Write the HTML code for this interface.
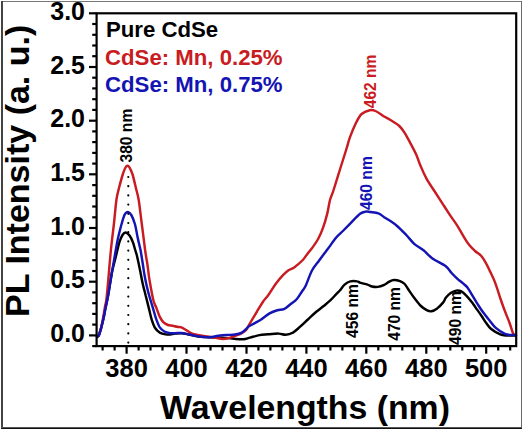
<!DOCTYPE html>
<html><head><meta charset="utf-8"><style>
html,body{margin:0;padding:0;background:#fff;}
body{width:523px;height:430px;overflow:hidden;position:relative;}
svg{position:absolute;left:0;top:0;}
text{font-family:"Liberation Sans",sans-serif;font-weight:bold;}
</style></head><body>
<svg width="523" height="430" viewBox="0 0 523 430">
<rect x="0" y="0" width="523" height="430" fill="#fff"/>
<!-- outer frame -->
<rect x="1" y="1" width="521" height="1" fill="#777"/>
<rect x="521" y="1" width="1" height="428" fill="#6a6a6a"/>
<rect x="1" y="1" width="2" height="428" fill="#444"/>
<rect x="1" y="427" width="521" height="1" fill="#555"/>
<rect x="1" y="428" width="521" height="1" fill="#111"/>
<!-- curves -->
<g fill="none" stroke-width="2.45" stroke-linejoin="round" stroke-linecap="round">
<path stroke="#000000" d="M97.0,336.0 C97.2,336.0 97.8,337.2 98.5,336.0 C99.2,334.8 100.2,331.4 101.0,328.6 C101.8,325.8 102.5,322.8 103.3,319.3 C104.1,315.8 104.8,311.5 105.6,307.6 C106.4,303.7 106.9,301.9 108.0,296.0 C109.1,290.1 110.7,278.7 112.0,272.0 C113.3,265.3 114.8,261.0 116.0,256.0 C117.2,251.0 118.4,245.5 119.5,242.0 C120.6,238.5 121.5,236.6 122.5,235.0 C123.5,233.4 124.6,232.4 125.8,232.5 C127.0,232.6 128.3,233.9 129.5,235.5 C130.7,237.1 131.9,239.6 132.8,242.0 C133.8,244.4 134.5,247.7 135.2,250.0 C135.9,252.3 136.2,252.7 137.0,256.0 C137.8,259.3 139.0,265.2 140.0,270.0 C141.0,274.8 142.0,280.7 143.0,285.0 C144.0,289.3 144.9,292.2 145.8,296.0 C146.8,299.8 147.7,303.7 148.7,307.6 C149.7,311.5 150.5,315.9 151.6,319.3 C152.7,322.7 153.7,325.8 155.1,328.0 C156.5,330.2 158.1,331.5 159.8,332.6 C161.6,333.7 163.9,334.1 165.6,334.4 C167.3,334.7 168.6,334.7 170.2,334.6 C171.8,334.5 173.0,333.8 174.9,333.6 C176.8,333.4 179.6,333.1 181.7,333.2 C183.8,333.3 185.4,333.8 187.5,334.2 C189.6,334.6 192.0,335.3 194.3,335.7 C196.6,336.1 198.9,336.5 201.2,336.8 C203.5,337.1 205.8,337.2 208.1,337.3 C210.4,337.4 212.7,337.3 215.0,337.4 C217.3,337.5 219.3,337.7 222.0,337.8 C224.7,337.9 228.7,338.0 230.9,338.2 C233.1,338.4 233.0,338.7 235.1,338.9 C237.2,339.1 241.0,339.5 243.5,339.3 C246.0,339.1 247.3,338.3 250.0,337.6 C252.7,336.9 256.5,335.7 259.5,335.1 C262.5,334.6 265.0,334.6 268.2,334.3 C271.4,334.1 275.7,333.5 278.6,333.6 C281.5,333.7 283.3,334.8 285.6,334.7 C287.9,334.6 290.3,334.1 292.6,332.8 C294.9,331.6 297.1,329.4 299.6,327.2 C302.2,325.0 305.1,322.1 307.9,319.5 C310.7,316.9 313.7,314.0 316.3,311.8 C318.9,309.6 321.0,308.2 323.3,306.3 C325.6,304.4 327.6,302.9 330.0,300.7 C332.4,298.4 335.8,294.5 337.5,292.8 C339.2,291.1 338.8,291.7 340.0,290.3 C341.2,288.9 342.9,286.1 344.6,284.6 C346.3,283.1 348.2,281.9 350.3,281.4 C352.4,280.9 355.5,281.1 357.2,281.4 C358.9,281.6 358.9,282.4 360.6,282.9 C362.3,283.4 365.6,284.0 367.5,284.6 C369.4,285.2 370.4,286.1 372.1,286.5 C373.8,286.9 375.9,287.1 377.8,286.9 C379.7,286.7 381.7,286.1 383.6,285.2 C385.5,284.3 387.6,282.6 389.3,281.7 C391.0,280.8 392.1,280.1 393.9,280.0 C395.7,279.9 398.2,280.5 400.0,281.2 C401.8,281.9 403.1,282.4 404.7,284.0 C406.2,285.6 407.6,288.4 409.3,290.9 C411.0,293.4 413.2,296.6 415.1,299.1 C417.0,301.6 419.0,304.2 420.9,306.0 C422.8,307.8 424.9,309.2 426.7,310.1 C428.4,311.0 429.6,311.6 431.4,311.3 C433.1,311.0 435.3,309.8 437.2,308.4 C439.1,306.9 441.5,304.4 443.0,302.6 C444.5,300.8 444.7,299.2 446.0,297.6 C447.3,296.0 449.0,294.2 450.7,293.0 C452.4,291.8 454.5,290.9 456.2,290.6 C457.9,290.3 459.2,290.3 460.9,291.2 C462.6,292.1 464.8,294.1 466.5,295.8 C468.2,297.5 469.9,299.8 471.1,301.3 C472.3,302.8 472.9,303.6 473.9,305.0 C474.9,306.4 475.6,307.6 476.9,309.4 C478.2,311.2 480.1,313.7 481.6,316.0 C483.2,318.3 484.6,320.9 486.2,323.0 C487.8,325.1 488.6,326.9 490.9,328.8 C493.2,330.7 497.5,333.3 500.2,334.4 C502.9,335.5 504.6,335.3 507.2,335.5 C509.8,335.7 514.5,335.5 516.0,335.5"/>
<path stroke="#c81c22" d="M97.0,336.0 C97.2,336.0 97.8,337.3 98.5,336.0 C99.2,334.7 100.2,331.0 101.0,328.0 C101.8,325.0 102.4,321.7 103.1,318.0 C103.8,314.3 104.5,309.7 105.1,306.0 C105.7,302.3 105.8,305.3 106.8,296.0 C107.8,286.7 109.7,262.0 110.9,250.0 C112.1,238.0 113.0,232.3 113.9,224.0 C114.8,215.7 115.6,206.0 116.4,200.0 C117.2,194.0 117.9,192.3 119.0,188.0 C120.1,183.7 121.8,177.4 122.9,174.0 C124.0,170.6 124.7,168.9 125.5,167.5 C126.3,166.1 126.8,165.8 127.5,165.8 C128.2,165.8 128.7,166.1 129.5,167.5 C130.3,168.9 131.3,170.6 132.4,174.0 C133.5,177.4 134.9,183.7 135.9,188.0 C136.9,192.3 137.7,194.0 138.7,200.0 C139.7,206.0 140.7,215.7 141.8,224.0 C142.9,232.3 144.2,243.2 145.1,250.0 C146.0,256.8 146.8,260.0 147.5,265.0 C148.2,270.0 148.5,274.2 149.5,280.0 C150.5,285.8 152.2,295.4 153.3,300.0 C154.4,304.6 155.2,304.8 156.3,307.6 C157.4,310.4 158.6,314.5 159.8,316.9 C161.0,319.3 162.0,320.8 163.3,322.2 C164.7,323.6 166.4,324.4 167.9,325.0 C169.4,325.6 171.1,325.4 172.6,325.7 C174.1,326.0 175.9,326.6 177.2,326.8 C178.5,327.1 179.3,326.8 180.6,327.2 C181.9,327.6 183.5,328.5 185.2,329.5 C186.9,330.5 189.0,332.1 190.9,333.0 C192.8,333.9 194.5,334.2 196.6,334.7 C198.7,335.2 201.2,335.6 203.5,336.0 C205.8,336.4 208.1,336.6 210.4,337.0 C212.7,337.4 215.3,337.8 217.3,338.1 C219.3,338.4 220.8,338.9 222.6,338.9 C224.4,338.9 226.3,338.7 228.4,338.2 C230.5,337.7 232.8,336.6 235.0,335.8 C237.2,335.0 239.9,334.4 241.8,333.3 C243.7,332.2 245.3,331.0 246.5,329.5 C247.7,328.0 247.5,327.4 249.2,324.5 C250.9,321.6 254.2,316.1 256.5,312.3 C258.8,308.5 261.1,304.5 263.0,301.7 C264.9,298.9 265.8,298.5 268.0,295.5 C270.2,292.5 273.5,286.9 276.0,283.5 C278.5,280.1 280.9,277.3 283.0,275.1 C285.1,272.9 286.6,271.5 288.5,270.2 C290.4,268.9 291.7,269.1 294.1,267.4 C296.5,265.7 300.7,262.2 302.8,260.0 C304.9,257.8 305.4,256.5 307.0,254.4 C308.6,252.3 310.8,250.0 312.6,247.4 C314.5,244.8 316.4,242.2 318.1,239.0 C319.8,235.8 321.5,232.1 323.0,227.9 C324.5,223.7 326.0,218.6 327.2,213.9 C328.4,209.2 328.9,204.0 330.0,200.0 C331.1,196.0 332.0,195.0 333.6,190.0 C335.2,185.0 337.7,176.7 339.8,170.0 C341.9,163.3 344.4,155.5 346.1,150.0 C347.8,144.5 348.4,141.6 350.0,137.2 C351.6,132.8 353.9,127.2 355.8,123.3 C357.7,119.4 359.3,116.2 361.6,114.0 C363.9,111.8 367.4,110.7 369.7,110.2 C372.0,109.7 373.2,110.0 375.5,111.0 C377.8,112.0 381.3,114.8 383.7,116.3 C386.1,117.8 387.4,118.1 390.0,119.7 C392.6,121.3 396.8,123.7 399.3,126.0 C401.8,128.3 403.2,130.6 405.1,133.6 C407.0,136.6 409.0,140.6 410.9,144.1 C412.8,147.6 414.6,151.0 416.2,154.5 C417.8,158.0 418.5,161.0 420.2,165.0 C421.9,169.0 423.7,173.6 426.5,178.6 C429.3,183.6 434.0,190.3 436.9,194.9 C439.8,199.5 441.8,202.5 444.1,206.0 C446.4,209.5 448.3,212.6 450.5,215.9 C452.7,219.2 455.1,222.2 457.4,225.8 C459.7,229.5 462.4,234.6 464.4,237.8 C466.4,241.1 467.7,243.1 469.5,245.3 C471.3,247.5 473.1,249.2 475.0,251.0 C476.9,252.8 479.3,253.8 481.1,255.8 C482.9,257.8 484.2,260.1 485.8,262.8 C487.4,265.5 488.8,268.8 490.4,272.1 C491.9,275.4 493.4,278.0 495.1,282.6 C496.9,287.2 499.3,295.2 500.9,300.0 C502.5,304.8 503.5,307.3 504.9,311.1 C506.3,314.9 508.1,319.0 509.5,322.7 C510.9,326.4 512.0,331.1 513.0,333.2 C514.0,335.3 515.1,335.1 515.5,335.5"/>
<path stroke="#1414b4" d="M97.0,336.0 C97.2,336.0 97.8,337.2 98.5,336.0 C99.2,334.8 100.2,331.4 101.0,328.6 C101.8,325.8 102.5,322.8 103.3,319.3 C104.1,315.8 104.8,311.5 105.6,307.6 C106.4,303.7 107.0,301.4 108.0,296.0 C109.0,290.6 110.2,282.7 111.5,275.0 C112.8,267.3 114.7,256.2 115.8,250.0 C116.9,243.8 117.1,242.1 118.1,237.8 C119.1,233.5 120.5,227.8 121.6,224.0 C122.7,220.2 123.5,217.0 124.5,215.0 C125.5,213.0 126.8,212.0 127.9,212.0 C129.0,212.0 130.1,213.0 131.3,215.0 C132.5,217.0 133.8,220.2 134.9,224.0 C136.0,227.8 136.8,233.5 137.7,237.8 C138.6,242.1 139.7,246.0 140.5,250.0 C141.3,254.0 141.8,257.8 142.5,262.0 C143.2,266.2 143.8,271.2 144.5,275.0 C145.2,278.8 145.7,281.5 146.5,285.0 C147.3,288.5 148.2,292.2 149.3,296.0 C150.4,299.8 151.6,303.7 152.8,307.6 C154.0,311.5 155.1,316.0 156.3,319.3 C157.5,322.6 158.5,325.4 159.8,327.4 C161.2,329.4 162.7,330.5 164.4,331.5 C166.1,332.5 168.4,332.9 170.2,333.2 C171.9,333.5 173.0,333.2 174.9,333.2 C176.8,333.2 179.6,332.9 181.7,333.0 C183.8,333.1 185.4,333.7 187.5,334.1 C189.6,334.5 192.0,335.2 194.3,335.6 C196.6,336.0 198.9,336.4 201.2,336.7 C203.5,337.0 206.3,337.1 208.1,337.2 C209.9,337.2 210.3,337.2 212.0,337.0 C213.7,336.8 216.0,336.1 218.4,335.8 C220.8,335.5 223.9,335.2 226.7,335.0 C229.5,334.8 232.6,334.9 235.1,334.5 C237.6,334.1 240.0,333.5 241.8,332.6 C243.6,331.7 244.8,330.3 246.0,329.2 C247.2,328.1 246.6,327.7 249.0,326.2 C251.4,324.7 257.0,322.1 260.4,320.0 C263.8,317.9 266.7,315.0 269.5,313.4 C272.3,311.8 274.9,310.9 277.3,310.2 C279.7,309.5 281.7,310.2 283.9,309.2 C286.1,308.2 288.2,306.0 290.4,304.3 C292.6,302.6 294.9,301.2 296.9,299.0 C298.9,296.8 300.8,293.2 302.3,291.0 C303.8,288.8 304.2,288.9 305.8,285.5 C307.4,282.1 309.7,274.8 312.0,270.5 C314.3,266.2 316.9,263.6 319.5,260.0 C322.1,256.4 325.1,252.5 327.9,248.8 C330.6,245.1 333.5,240.8 336.0,237.8 C338.5,234.8 340.4,233.5 342.9,231.0 C345.4,228.5 348.0,225.8 350.9,222.9 C353.8,220.0 357.6,215.7 360.1,213.8 C362.6,211.9 364.1,211.9 365.8,211.6 C367.5,211.3 368.3,211.7 370.4,212.0 C372.5,212.3 376.1,212.4 378.4,213.3 C380.7,214.2 382.3,215.9 384.2,217.2 C386.1,218.4 387.8,219.3 390.0,220.8 C392.2,222.3 394.6,223.8 397.4,226.2 C400.2,228.6 403.9,232.6 406.7,235.5 C409.5,238.4 411.4,241.3 414.2,243.8 C417.0,246.3 420.4,247.8 423.5,250.3 C426.6,252.8 429.1,256.1 432.8,258.7 C436.5,261.3 442.7,263.8 445.8,266.2 C448.9,268.6 449.7,270.9 451.6,273.0 C453.5,275.1 455.4,276.9 457.2,278.6 C459.0,280.3 461.0,281.7 462.7,283.2 C464.4,284.7 465.8,285.5 467.4,287.4 C468.9,289.3 470.3,292.0 472.0,294.8 C473.7,297.6 475.8,301.3 477.6,304.1 C479.4,306.9 480.7,309.0 482.7,311.8 C484.7,314.6 487.6,318.1 489.7,320.7 C491.8,323.3 493.0,325.5 495.5,327.7 C498.0,329.9 502.2,332.6 504.9,333.8 C507.6,335.0 510.0,334.8 511.9,335.0 C513.8,335.2 515.3,335.0 516.0,335.0"/>
</g>
<line x1="128.3" y1="177" x2="128.3" y2="345" stroke="#000" stroke-width="2.2" stroke-linecap="round" stroke-dasharray="0 9.2"/>
<!-- axes box -->
<rect x="96.6" y="13.3" width="419.6" height="332.8" fill="none" stroke="#000" stroke-width="2.2"/>
<g stroke="#000" stroke-width="2.2">
<line x1="102.6" y1="346.1" x2="102.6" y2="350.5"/><line x1="114.6" y1="346.1" x2="114.6" y2="350.5"/><line x1="126.6" y1="346.1" x2="126.6" y2="353.7"/><line x1="138.6" y1="346.1" x2="138.6" y2="350.5"/><line x1="150.5" y1="346.1" x2="150.5" y2="350.5"/><line x1="162.5" y1="346.1" x2="162.5" y2="350.5"/><line x1="174.5" y1="346.1" x2="174.5" y2="350.5"/><line x1="186.5" y1="346.1" x2="186.5" y2="353.7"/><line x1="198.5" y1="346.1" x2="198.5" y2="350.5"/><line x1="210.5" y1="346.1" x2="210.5" y2="350.5"/><line x1="222.5" y1="346.1" x2="222.5" y2="350.5"/><line x1="234.5" y1="346.1" x2="234.5" y2="350.5"/><line x1="246.5" y1="346.1" x2="246.5" y2="353.7"/><line x1="258.4" y1="346.1" x2="258.4" y2="350.5"/><line x1="270.4" y1="346.1" x2="270.4" y2="350.5"/><line x1="282.4" y1="346.1" x2="282.4" y2="350.5"/><line x1="294.4" y1="346.1" x2="294.4" y2="350.5"/><line x1="306.4" y1="346.1" x2="306.4" y2="353.7"/><line x1="318.4" y1="346.1" x2="318.4" y2="350.5"/><line x1="330.4" y1="346.1" x2="330.4" y2="350.5"/><line x1="342.4" y1="346.1" x2="342.4" y2="350.5"/><line x1="354.4" y1="346.1" x2="354.4" y2="350.5"/><line x1="366.3" y1="346.1" x2="366.3" y2="353.7"/><line x1="378.3" y1="346.1" x2="378.3" y2="350.5"/><line x1="390.3" y1="346.1" x2="390.3" y2="350.5"/><line x1="402.3" y1="346.1" x2="402.3" y2="350.5"/><line x1="414.3" y1="346.1" x2="414.3" y2="350.5"/><line x1="426.3" y1="346.1" x2="426.3" y2="353.7"/><line x1="438.3" y1="346.1" x2="438.3" y2="350.5"/><line x1="450.3" y1="346.1" x2="450.3" y2="350.5"/><line x1="462.3" y1="346.1" x2="462.3" y2="350.5"/><line x1="474.2" y1="346.1" x2="474.2" y2="350.5"/><line x1="486.2" y1="346.1" x2="486.2" y2="353.7"/><line x1="498.2" y1="346.1" x2="498.2" y2="350.5"/><line x1="510.2" y1="346.1" x2="510.2" y2="350.5"/><line x1="96.6" y1="346.1" x2="92.2" y2="346.1"/><line x1="96.6" y1="335.4" x2="89.0" y2="335.4"/><line x1="96.6" y1="324.6" x2="92.2" y2="324.6"/><line x1="96.6" y1="313.9" x2="92.2" y2="313.9"/><line x1="96.6" y1="303.2" x2="92.2" y2="303.2"/><line x1="96.6" y1="292.4" x2="92.2" y2="292.4"/><line x1="96.6" y1="281.7" x2="89.0" y2="281.7"/><line x1="96.6" y1="271.0" x2="92.2" y2="271.0"/><line x1="96.6" y1="260.2" x2="92.2" y2="260.2"/><line x1="96.6" y1="249.5" x2="92.2" y2="249.5"/><line x1="96.6" y1="238.7" x2="92.2" y2="238.7"/><line x1="96.6" y1="228.0" x2="89.0" y2="228.0"/><line x1="96.6" y1="217.3" x2="92.2" y2="217.3"/><line x1="96.6" y1="206.5" x2="92.2" y2="206.5"/><line x1="96.6" y1="195.8" x2="92.2" y2="195.8"/><line x1="96.6" y1="185.1" x2="92.2" y2="185.1"/><line x1="96.6" y1="174.3" x2="89.0" y2="174.3"/><line x1="96.6" y1="163.6" x2="92.2" y2="163.6"/><line x1="96.6" y1="152.9" x2="92.2" y2="152.9"/><line x1="96.6" y1="142.1" x2="92.2" y2="142.1"/><line x1="96.6" y1="131.4" x2="92.2" y2="131.4"/><line x1="96.6" y1="120.7" x2="89.0" y2="120.7"/><line x1="96.6" y1="109.9" x2="92.2" y2="109.9"/><line x1="96.6" y1="99.2" x2="92.2" y2="99.2"/><line x1="96.6" y1="88.4" x2="92.2" y2="88.4"/><line x1="96.6" y1="77.7" x2="92.2" y2="77.7"/><line x1="96.6" y1="67.0" x2="89.0" y2="67.0"/><line x1="96.6" y1="56.2" x2="92.2" y2="56.2"/><line x1="96.6" y1="45.5" x2="92.2" y2="45.5"/><line x1="96.6" y1="34.8" x2="92.2" y2="34.8"/><line x1="96.6" y1="24.0" x2="92.2" y2="24.0"/><line x1="96.6" y1="13.3" x2="89.0" y2="13.3"/>
</g>
<g font-size="25" fill="#000">
<text transform="translate(126.6,377) scale(1.02,1)" text-anchor="middle">380</text><text transform="translate(186.5,377) scale(1.02,1)" text-anchor="middle">400</text><text transform="translate(246.5,377) scale(1.02,1)" text-anchor="middle">420</text><text transform="translate(306.4,377) scale(1.02,1)" text-anchor="middle">440</text><text transform="translate(366.3,377) scale(1.02,1)" text-anchor="middle">460</text><text transform="translate(426.3,377) scale(1.02,1)" text-anchor="middle">480</text><text transform="translate(486.2,377) scale(1.02,1)" text-anchor="middle">500</text>
<text x="85" y="342.1" text-anchor="end">0.0</text><text x="85" y="288.4" text-anchor="end">0.5</text><text x="85" y="234.7" text-anchor="end">1.0</text><text x="85" y="181.0" text-anchor="end">1.5</text><text x="85" y="127.4" text-anchor="end">2.0</text><text x="85" y="73.7" text-anchor="end">2.5</text><text x="85" y="20.0" text-anchor="end">3.0</text>
</g>
<text x="305" y="419.2" font-size="33.8" text-anchor="middle" fill="#000">Wavelengths (nm)</text>
<text transform="translate(29.4,170.8) rotate(-90)" font-size="34" text-anchor="middle" fill="#000">PL Intensity (a. u.)</text>
<g font-size="22.2">
<text x="106" y="36.7" fill="#000">Pure CdSe</text>
<text x="105" y="64.8" fill="#c81c22">CdSe: Mn, 0.25%</text>
<text x="105" y="92.3" fill="#1414b4">CdSe: Mn, 0.75%</text>
</g>
<g font-size="15.6">
<text transform="translate(132.4,135.6) rotate(-90)" text-anchor="middle" fill="#000">380 nm</text>
<text transform="translate(376.2,81.4) rotate(-90)" text-anchor="middle" fill="#c81c22">462 nm</text>
<text transform="translate(372.0,183.1) rotate(-90)" text-anchor="middle" fill="#1414b4">460 nm</text>
<text transform="translate(358.0,311) rotate(-90)" text-anchor="middle" fill="#000">456 nm</text>
<text transform="translate(399.5,313.9) rotate(-90)" text-anchor="middle" fill="#000">470 nm</text>
<text transform="translate(461.2,318) rotate(-90)" text-anchor="middle" fill="#000">490 nm</text>
</g>
</svg>
</body></html>
